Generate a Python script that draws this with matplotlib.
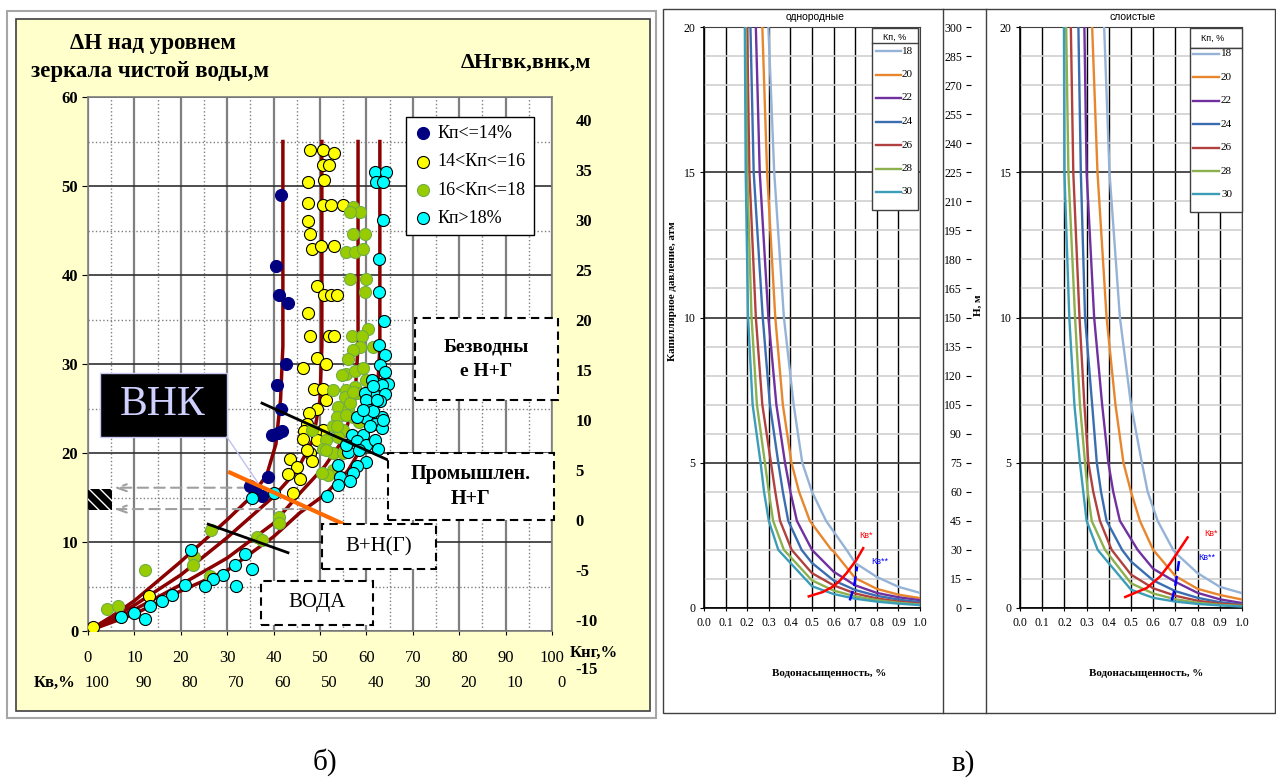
import numpy as np
import matplotlib
matplotlib.use("Agg")
import matplotlib.pyplot as plt
import matplotlib.transforms as mtransforms
from matplotlib.patches import Rectangle
from matplotlib.lines import Line2D

# ---------- panel "б": scatter of dH vs Кнг ----------
navy_pts = [(41.7, 49.0), (40.5, 41.0), (41.2, 37.8), (43.1, 36.9), (42.7, 30.0), (40.8, 27.6),
            (41.5, 25.0), (39.6, 22.0), (41.9, 22.5), (41.0, 22.3), (38.7, 17.3), (34.9, 16.3),
            (37.4, 15.2), (36.0, 15.8)]
yellow_pts = [(47.8, 54.0), (50.6, 54.0), (53.1, 53.7), (50.6, 52.4), (52.0, 52.4), (47.5, 50.5),
              (50.9, 50.7), (47.5, 48.1), (50.6, 47.9), (52.4, 47.9), (54.9, 47.9), (47.5, 46.1),
              (47.8, 44.6), (48.2, 42.9), (50.2, 43.3), (53.1, 43.3), (49.3, 38.8), (50.9, 37.8),
              (52.4, 37.8), (53.6, 37.8), (47.5, 35.7), (47.8, 33.2), (51.9, 33.2), (53.1, 33.2),
              (49.3, 30.7), (51.2, 30.0), (46.3, 29.5), (48.8, 27.2), (50.7, 27.2), (51.4, 26.0),
              (49.4, 24.9), (47.6, 24.5), (47.1, 23.3), (50.7, 22.6), (48.9, 22.4), (46.6, 22.5),
              (49.3, 21.5), (46.4, 21.6), (47.8, 20.0), (48.2, 19.1), (47.1, 20.3), (43.5, 19.3),
              (45.0, 18.4), (43.0, 17.6), (45.6, 17.1), (44.2, 15.5), (13.1, 3.9), (1.1, 0.5)]
green_pts = [(57.2, 47.6), (58.6, 47.1), (56.5, 47.1), (57.2, 44.6), (59.7, 44.6), (55.6, 42.6),
             (57.5, 42.6), (59.3, 42.9), (56.5, 39.5), (60.0, 39.5), (59.7, 38.1), (60.4, 33.9),
             (56.8, 33.1), (59.0, 33.1), (58.6, 31.9), (57.2, 31.6), (61.5, 31.9), (56.1, 30.6),
             (55.7, 28.9), (54.7, 28.8), (57.5, 29.2), (59.3, 29.5), (57.5, 27.4), (55.7, 27.1),
             (60.0, 28.2), (52.9, 27.1), (55.4, 26.3), (57.9, 26.7), (53.9, 25.2), (56.1, 24.8),
             (57.2, 24.1), (53.6, 24.1), (52.9, 23.0), (55.0, 22.6), (51.4, 21.5), (53.9, 21.8),
             (50.7, 20.5), (52.9, 20.0), (55.0, 20.0), (52.9, 18.1), (51.8, 17.5), (50.4, 17.7),
             (48.2, 22.6), (51.4, 20.3), (53.6, 23.0), (55.7, 24.3), (56.5, 25.6), (57.2, 26.9),
             (58.5, 23.5), (26.5, 11.3), (41.2, 12.8), (41.2, 12.1), (36.4, 10.6), (37.6, 10.2),
             (22.9, 8.3), (22.6, 7.4), (12.3, 6.9), (4.0, 2.5), (6.5, 2.8), (26.3, 6.2)]
cyan_pts = [(61.9, 51.6), (64.2, 51.6), (62.1, 50.5), (63.6, 50.5), (63.6, 46.2), (62.7, 41.8),
            (62.7, 38.1), (63.9, 34.8), (62.8, 32.1), (64.1, 31.0), (62.9, 29.9), (64.1, 29.1),
            (62.9, 27.8), (64.6, 27.8), (61.3, 28.2), (63.3, 27.6), (61.5, 26.7), (64.0, 26.6),
            (59.8, 26.7), (62.9, 25.8), (60.0, 25.9), (60.8, 24.8), (63.3, 24.1), (60.0, 23.9),
            (57.9, 24.1), (61.9, 23.3), (63.3, 22.8), (56.8, 22.0), (59.3, 22.0), (57.9, 21.3),
            (60.0, 20.9), (61.9, 21.5), (62.6, 20.5), (56.1, 20.1), (58.3, 20.3), (60.0, 19.0),
            (57.9, 18.5), (53.9, 18.7), (57.2, 17.7), (54.3, 17.3), (53.9, 16.4), (56.5, 16.8),
            (51.6, 15.2), (55.7, 20.9), (60.8, 23.0), (61.5, 24.7), (59.3, 24.8), (62.2, 26.0),
            (61.5, 27.5), (63.6, 23.7), (35.3, 14.9), (40.1, 15.5), (22.3, 9.1), (33.8, 8.6),
            (31.6, 7.4), (35.3, 7.0), (29.1, 6.3), (27.0, 5.8), (25.2, 5.1), (32.0, 5.1),
            (20.9, 5.2), (18.2, 4.0), (15.9, 3.4), (13.4, 2.8), (12.3, 1.4), (10.0, 2.0), (7.2, 1.6)]

trend_a = [(0, 0), (5, 1.6), (10, 3.4), (20, 7.8), (30, 12.5), (35, 15), (38.5, 17.5), (40.5, 21),
           (41.5, 26), (42, 32), (42, 55)]
trend_b = [(0, 0), (10, 2.9), (20, 6.3), (30, 10.5), (40, 15.1), (45, 18), (48.5, 21.5), (50, 26),
           (50.4, 32), (50.4, 55)]
trend_c = [(0, 0), (10, 2.4), (20, 5.2), (30, 8.2), (40, 12.1), (45.7, 15.5), (51, 18.5), (55, 21.5),
           (57.5, 26), (58.2, 32), (58.2, 55)]
trend_d = [(0, 0), (10, 1.9), (20, 4.5), (30, 6.8), (40, 10.6), (45.7, 13.3), (51, 15.3), (56, 18),
           (60, 21.5), (62.3, 26), (62.9, 32), (62.9, 55)]
black_upper = [(37.5, 25.6), (64.7, 19.2)]
black_lower = [(25.9, 12.0), (43.1, 8.8)]
orange_line = [(30.6, 17.8), (54.7, 12.1)]

kng_ticks = list(range(0, 101, 10))
kv_labels = [100, 90, 80, 70, 60, 50, 40, 30, 20, 10, 0]
right_ticks = list(range(-10, 41, 5))
legend_labels = ["Кп<=14%", "14<Кп<=16", "16<Кп<=18", "Кп>18%"]

# ---------- panels "в": capillary pressure curves ----------
kp_values = [18, 20, 22, 24, 26, 28, 30]
kp_colors = ["#95b3d7", "#e8862e", "#7030a0", "#3b6eb0", "#b0413e", "#8cb04e", "#3c9db8"]
pc_levels = [20, 15, 10, 7, 5, 4, 3, 2]
tail_sw = [0.5, 0.6, 0.7, 0.8, 0.9, 1.0]

homog_sw = [[0.298, 0.325, 0.37, 0.415, 0.455, 0.50, 0.565, 0.66],
            [0.27, 0.292, 0.33, 0.365, 0.405, 0.44, 0.49, 0.59],
            [0.24, 0.258, 0.298, 0.335, 0.375, 0.40, 0.43, 0.50],
            [0.215, 0.23, 0.272, 0.305, 0.344, 0.365, 0.39, 0.452],
            [0.20, 0.21, 0.24, 0.27, 0.31, 0.33, 0.352, 0.406],
            [0.193, 0.20, 0.22, 0.245, 0.282, 0.30, 0.32, 0.37],
            [0.189, 0.193, 0.204, 0.225, 0.262, 0.278, 0.30, 0.344]]
homog_tail = [[4.2, 2.75, 1.55, 1.07, 0.73, 0.52],
              [3.1, 1.95, 1.03, 0.66, 0.46, 0.34],
              [2.0, 1.25, 0.78, 0.52, 0.37, 0.27],
              [1.55, 0.95, 0.62, 0.42, 0.29, 0.20],
              [1.2, 0.78, 0.50, 0.33, 0.22, 0.15],
              [0.95, 0.60, 0.40, 0.27, 0.18, 0.12],
              [0.75, 0.48, 0.32, 0.22, 0.15, 0.10]]
layer_sw = [[0.379, 0.403, 0.45, 0.50, 0.549, 0.575, 0.62, 0.69],
            [0.325, 0.349, 0.39, 0.43, 0.466, 0.50, 0.54, 0.60],
            [0.29, 0.30, 0.334, 0.37, 0.398, 0.42, 0.45, 0.53],
            [0.263, 0.274, 0.293, 0.325, 0.346, 0.365, 0.39, 0.46],
            [0.229, 0.24, 0.268, 0.29, 0.308, 0.33, 0.36, 0.413],
            [0.208, 0.218, 0.248, 0.27, 0.293, 0.305, 0.323, 0.383],
            [0.198, 0.20, 0.222, 0.245, 0.27, 0.285, 0.30, 0.35]]
layer_tail = [[5.0, 3.6, 1.9, 1.2, 0.73, 0.51],
              [4.0, 2.0, 1.1, 0.66, 0.45, 0.29],
              [2.5, 1.35, 0.90, 0.52, 0.30, 0.17],
              [1.6, 0.95, 0.58, 0.35, 0.20, 0.12],
              [1.15, 0.68, 0.42, 0.25, 0.15, 0.10],
              [0.85, 0.50, 0.30, 0.18, 0.11, 0.07],
              [0.63, 0.35, 0.22, 0.14, 0.09, 0.05]]

kv1_homog = [(0.485, 0.40), (0.55, 0.55), (0.598, 0.74), (0.63, 0.95), (0.66, 1.2), (0.706, 1.66), (0.737, 2.06)]
kv2_homog = [(0.675, 0.26), (0.695, 0.74), (0.709, 1.43)]
kv1_layer = [(0.474, 0.38), (0.571, 0.69), (0.632, 1.09), (0.677, 1.54), (0.755, 2.43)]
kv2_layer = [(0.684, 0.26), (0.699, 0.74), (0.719, 1.75)]
h_ticks = list(range(0, 301, 15))

SERIF = ["Liberation Serif", "DejaVu Serif"]
SANS = ["Liberation Sans", "DejaVu Sans"]
plt.rcParams["font.family"] = SERIF
plt.rcParams["axes.unicode_minus"] = False

W, H = 1276, 781
fig = plt.figure(figsize=(W / 100, H / 100), dpi=100)


def fx(x):
    return x / W


def fy(y):
    return 1 - y / H


def rect(x0, y0, x1, y1):
    return [fx(x0), fy(y1), (x1 - x0) / W, (y1 - y0) / H]


def fig_rect(x0, y0, x1, y1, **kw):
    r = Rectangle((fx(x0), fy(y1)), (x1 - x0) / W, (y1 - y0) / H, transform=fig.transFigure, **kw)
    fig.add_artist(r)
    return r


def fig_line(xs, ys, **kw):
    fig.add_artist(Line2D([fx(v) for v in xs], [fy(v) for v in ys], transform=fig.transFigure, **kw))


def xy(pts):
    a = np.array(pts, dtype=float)
    return a[:, 0], a[:, 1]


# ======================= panel б =======================
fig_rect(7, 11, 656, 718, fc="white", ec="#a6a6a6", lw=1.5, zorder=-3)
fig_rect(16, 19, 650, 711, fc="#ffffcc", ec="#404040", lw=1.2, zorder=-2)

ax = fig.add_axes(rect(88, 97, 552, 631))
ax.set_xlim(0, 100)
ax.set_ylim(0, 60)
ax.set_xticks(kng_ticks)
ax.set_xticks(np.arange(5, 100, 10), minor=True)
ax.set_yticks(range(0, 61, 10))
ax.set_yticks(np.arange(5, 60, 10), minor=True)
ax.grid(which="major", axis="x", color="#7f7f7f", lw=1.6)
ax.grid(which="minor", axis="x", color="#7f7f7f", lw=1.0, ls=":")
ax.grid(which="major", axis="y", color="#303030", lw=1.2)
ax.grid(which="minor", axis="y", color="#7f7f7f", lw=1.0, ls=":")
ax.set_axisbelow(True)
ax.tick_params(which="minor", length=0)
ax.tick_params(axis="y", which="major", length=4, direction="out", pad=3, labelsize=12)
ax.tick_params(axis="x", which="major", length=3, direction="out", pad=11, labelsize=12)
for lab in ax.get_yticklabels():
    lab.set_fontweight("bold")
for s in ax.spines.values():
    s.set_color("#7f7f7f")
    s.set_linewidth(1.2)

for tr in (trend_a, trend_b, trend_c, trend_d):
    tx, ty = xy(tr)
    ax.plot(tx, ty, color="#8b0000", lw=2.5, zorder=2)

ax.annotate("", xy=(5.6, 16.1), xytext=(34.5, 16.1),
            arrowprops=dict(arrowstyle="->,head_length=0.7,head_width=0.25", color="#a0a0a0",
                            lw=1.5, ls=(0, (5, 3)), shrinkA=0, shrinkB=0), zorder=2.5)
ax.annotate("", xy=(5.6, 13.7), xytext=(47.8, 13.7),
            arrowprops=dict(arrowstyle="->,head_length=0.7,head_width=0.25", color="#a0a0a0",
                            lw=1.5, ls=(0, (5, 3)), shrinkA=0, shrinkB=0), zorder=2.5)

sc_navy = ax.scatter(*xy(navy_pts), s=75, c="#000080", edgecolors="#000080", lw=0.8, zorder=3)
sc_yel = ax.scatter(*xy(yellow_pts), s=75, c="#ffff00", edgecolors="black", lw=0.8, zorder=3)
sc_grn = ax.scatter(*xy(green_pts), s=75, c="#99cc00", edgecolors="#70ad47", lw=0.8, zorder=3)
sc_cyan = ax.scatter(*xy(cyan_pts), s=75, c="#00ffff", edgecolors="black", lw=0.8, zorder=3)

for ln in (black_upper, black_lower):
    lx, ly = xy(ln)
    ax.plot(lx, ly, color="black", lw=2, zorder=4)
ox, oy = xy(orange_line)
ax.plot(ox, oy, color="#ff6a00", lw=3, zorder=4)

leg = ax.legend([sc_navy, sc_yel, sc_grn, sc_cyan], legend_labels, loc="upper left",
                bbox_to_anchor=(fx(406), fy(117)), bbox_transform=fig.transFigure,
                fancybox=False, edgecolor="black", framealpha=1, borderaxespad=0,
                prop=dict(family=SERIF, size=13), labelspacing=0.62, handletextpad=0.3,
                borderpad=0.45, handlelength=1.0)
leg.get_frame().set_linewidth(1.0)

ax2 = ax.twinx()
ax2.set_ylim(-11.1, 42.3)
ax2.set_yticks(right_ticks)
ax2.tick_params(axis="y", length=0, pad=17, labelsize=12)
for lab in ax2.get_yticklabels():
    lab.set_fontweight("bold")
for s in ax2.spines.values():
    s.set_visible(False)

trans = mtransforms.blended_transform_factory(ax.transData, fig.transFigure)
for v, lab in zip(kng_ticks, kv_labels):
    ax.text(v + 2, fy(683), str(lab), transform=trans, ha="center", va="center", fontsize=12,
            clip_on=False)
fig.text(fx(55), fy(683), "Кв,%", ha="center", va="center", fontsize=12, weight="bold")
fig.text(fx(570), fy(653), "Кнг,%", ha="left", va="center", fontsize=12, weight="bold")
fig.text(fx(575), fy(670), "-15", ha="left", va="center", fontsize=12, weight="bold")

fig.text(fx(153), fy(43), "ΔН над уровнем", ha="center", va="center", fontsize=16.5, weight="bold")
fig.text(fx(150), fy(72), "зеркала чистой воды,м", ha="center", va="center", fontsize=16.5,
         weight="bold")
fig.text(fx(526), fy(63), "ΔНгвк,внк,м", ha="center", va="center", fontsize=16, weight="bold")

# ВНК label
fig_rect(100, 373, 227, 437, fc="black", ec="#c8c8f0", lw=1.0, zorder=5)
fig.text(fx(163), fy(405), "ВНК", ha="center", va="center", fontsize=30, color="#d0d0ff", zorder=6)
fig_line([227, 258], [437, 483], color="#c0c0f0", lw=1.0, zorder=5)

# hatched square
fig_rect(88, 489, 112, 510, fc="black", ec="none", zorder=5)
fig_rect(88, 489, 112, 510, fc="none", ec="white", hatch="\\\\\\", lw=0, zorder=5.1)

# dashed boxes
boxes = [((415, 318, 558, 400), ["Безводны", "е Н+Г"], "bold", 14),
         ((388, 453, 554, 520), ["Промышлен.", "Н+Г"], "bold", 14.5),
         ((322, 524, 436, 569), ["В+Н(Г)"], "normal", 15),
         ((261, 581, 373, 625), ["ВОДА"], "normal", 15)]
for (x0, y0, x1, y1), lines, wt, fs in boxes:
    fig_rect(x0, y0, x1, y1, fc="white", ec="black", ls=(0, (4, 2.5)), lw=1.5, zorder=5)
    cy = (y0 + y1) / 2
    n = len(lines)
    for i, t in enumerate(lines):
        yy = cy + (i - (n - 1) / 2) * 25
        fig.text(fx((x0 + x1) / 2), fy(yy), t, ha="center", va="center", fontsize=fs, weight=wt,
                 zorder=6)

fig.text(fx(325), fy(762), "б)", ha="center", va="center", fontsize=21)
fig.text(fx(963), fy(764), "в)", ha="center", va="center", fontsize=21)

# ======================= panels в =======================
fig_rect(663, 9, 1275, 713, fc="none", ec="#404040", lw=1.0, zorder=4)
fig_line([943, 943], [9, 713], color="#404040", lw=1.0, zorder=4)
fig_line([986, 986], [9, 713], color="#404040", lw=1.0, zorder=4)


def pc_axes(pos, sw_levels, tails, kv1, kv2):
    a = fig.add_axes(pos)
    a.set_xlim(0, 1)
    a.set_ylim(0, 20)
    a.set_xticks(np.arange(0, 1.01, 0.1))
    a.set_xticklabels([f"{v:.1f}" for v in np.arange(0, 1.01, 0.1)])
    a.set_yticks([0, 5, 10, 15, 20])
    a.set_yticks(range(0, 21), minor=True)
    a.grid(which="minor", axis="y", color="#d0d0d0", lw=1.2)
    a.grid(which="major", axis="y", color="#404040", lw=1.3)
    a.grid(which="major", axis="x", color="black", lw=1.0)
    a.set_axisbelow(True)
    a.tick_params(which="minor", length=0)
    a.tick_params(axis="y", length=3, pad=3, labelsize=8.5)
    a.tick_params(axis="x", length=2.5, pad=4, labelsize=8.5)
    for side in ("left", "bottom"):
        a.spines[side].set_color("black")
        a.spines[side].set_linewidth(1.2)
    for side in ("top", "right"):
        a.spines[side].set_color("#404040")
    for sw, tail, col in zip(sw_levels, tails, kp_colors):
        xs = list(sw) + [s for s in tail_sw if s > sw[-1]]
        ys = list(pc_levels) + [p for s, p in zip(tail_sw, tail) if s > sw[-1]]
        a.plot(xs, ys, color=col, lw=1.7, zorder=3, solid_joinstyle="round")
    kx, ky = xy(kv1)
    a.plot(kx, ky, color="#ff0000", lw=1.8, zorder=4)
    kx, ky = xy(kv2)
    a.plot(kx, ky, color="#0000ff", lw=1.8, ls=(0, (4, 2)), zorder=4)
    return a


ax3 = pc_axes(rect(704, 27, 920, 608), homog_sw, homog_tail, kv1_homog, kv2_homog)
ax4 = pc_axes(rect(1020, 27, 1242, 608), layer_sw, layer_tail, kv1_layer, kv2_layer)

axh = fig.add_axes(rect(971, 27, 972, 608))
axh.set_ylim(0, 300)
axh.set_yticks(h_ticks)
axh.set_xticks([])
axh.patch.set_visible(False)
for s in axh.spines.values():
    s.set_visible(False)
axh.tick_params(axis="y", length=3.5, pad=3, labelsize=8.5)

fig.text(fx(815), fy(17), "однородные", ha="center", va="center", fontsize=7.5, family=SANS)
fig.text(fx(1133), fy(17), "слоистые", ha="center", va="center", fontsize=7.5, family=SANS)
fig.text(fx(673), fy(291), "Капиллярное давление, атм", rotation=90, ha="center", va="center",
         fontsize=8, weight="bold")
fig.text(fx(978), fy(305), "Н, м", rotation=90, ha="center", va="center", fontsize=8, weight="bold")
fig.text(fx(829), fy(673), "Водонасыщенность, %", ha="center", va="center", fontsize=8, weight="bold")
fig.text(fx(1146), fy(673), "Водонасыщенность, %", ha="center", va="center", fontsize=8, weight="bold")

fig.text(fx(866), fy(536), "Кв*", color="#ff0000", fontsize=6.5, family=SANS, ha="center", va="center")
fig.text(fx(880), fy(562), "Кв**", color="#0000ff", fontsize=6.5, family=SANS, ha="center", va="center")
fig.text(fx(1211), fy(533), "Кв*", color="#ff0000", fontsize=6.5, family=SANS, ha="center", va="center")
fig.text(fx(1207), fy(558), "Кв**", color="#0000ff", fontsize=6.5, family=SANS, ha="center", va="center")

# legends of the Кп curves
fig_rect(872, 28, 918, 210, fc="white", ec="#404040", lw=1.0, zorder=5)
fig.text(fx(895), fy(37), "Кп, %", ha="center", va="center", fontsize=6.5, family=SANS, zorder=6)
fig_line([872, 918], [43, 43], color="#404040", lw=1.0, zorder=6)
fig_rect(1190, 28, 1242, 48, fc="white", ec="#404040", lw=1.0, zorder=5)
fig.text(fx(1213), fy(38), "Кп, %", ha="center", va="center", fontsize=6.5, family=SANS, zorder=6)
fig_rect(1190, 48, 1242, 212, fc="white", ec="#404040", lw=1.0, zorder=5)
for i, (kp, col) in enumerate(zip(kp_values, kp_colors)):
    y1 = 51 + i * 23.5
    fig_line([876, 901], [y1, y1], color=col, lw=1.7, zorder=6)
    fig.text(fx(902), fy(y1), str(kp), ha="left", va="center", fontsize=8, zorder=6)
    y2 = 54 + i * 23.4
    fig_line([1193, 1219], [y2, y2], color=col, lw=1.7, zorder=6)
    fig.text(fx(1221), fy(y2), str(kp), ha="left", va="center", fontsize=8, zorder=6)

fig.savefig("out.png", dpi=100)
plt.close(fig)
